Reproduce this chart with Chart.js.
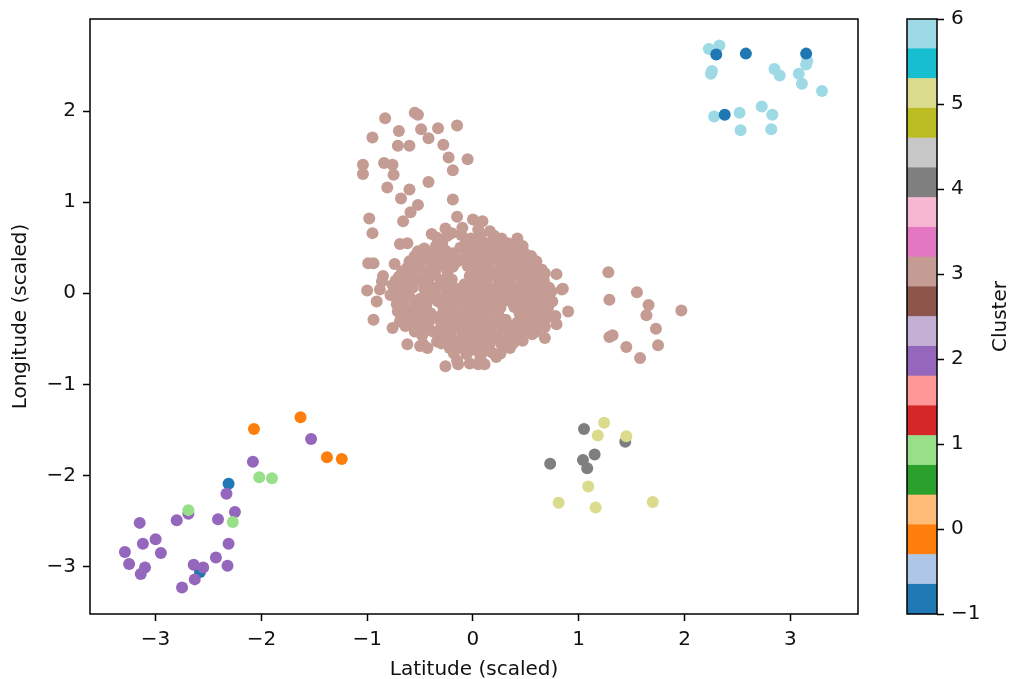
<!DOCTYPE html>
<html><head><meta charset="utf-8">
<script src="https://cdn.jsdelivr.net/npm/chart.js@4.4.1/dist/chart.umd.min.js"></script>
<style>
html,body{margin:0;padding:0;background:#fff;}
#wrap{position:relative;width:1011px;height:679px;overflow:hidden;background:#fff;}
canvas{position:absolute;left:0;top:0;}
</style>
</head><body>
<div id="wrap"><canvas id="main" width="1011" height="679"></canvas><canvas id="cbar" width="1011" height="679"></canvas></div>
<script>
// ---------------- data ----------------
const clusterIds = [-1, 0, 1, 2, 3, 4, 5, 6];

const clusterNoise = [[2.30,2.62],[2.58,2.63],[3.15,2.63],[2.38,1.96],[-2.31,-2.09],[-2.58,-3.06]];
const cluster0 = [[-2.07,-1.49],[-1.63,-1.36],[-1.38,-1.80],[-1.24,-1.82]];
const cluster1 = [[-2.02,-2.02],[-1.90,-2.03],[-2.69,-2.38],[-2.27,-2.51]];
const cluster2 = [[-1.53,-1.60],[-2.08,-1.85],[-2.33,-2.20],[-2.25,-2.40],[-2.41,-2.48],[-2.80,-2.49],[-2.69,-2.42],
  [-3.15,-2.52],[-3.12,-2.75],[-3.00,-2.70],[-2.95,-2.85],[-3.29,-2.84],[-3.25,-2.97],[-3.10,-3.01],[-3.14,-3.08],
  [-2.31,-2.75],[-2.43,-2.90],[-2.32,-2.99],[-2.64,-2.98],[-2.55,-3.01],[-2.63,-3.14],[-2.75,-3.23]];
const cluster3 = [
  // upper sparse arm
  [-0.83,1.92],[-0.55,1.98],[-0.52,1.96],[-0.95,1.71],[-0.70,1.78],[-0.49,1.80],[-0.33,1.81],[-0.15,1.84],[-0.42,1.70],
  [-0.71,1.62],[-0.60,1.62],[-0.28,1.63],[-0.23,1.49],[-0.05,1.47],[-0.19,1.35],[-1.04,1.41],[-1.04,1.31],[-0.84,1.43],
  [-0.76,1.41],[-0.75,1.30],[-0.81,1.16],[-0.42,1.22],[-0.60,1.14],[-0.68,1.04],[-0.52,0.97],[-0.59,0.89],[-0.66,0.79],
  [-0.19,1.03],[-0.98,0.82],[-0.95,0.66],[-0.69,0.54],[-0.62,0.55],[-0.99,0.33],[-0.94,0.33],
  // right group
  [1.28,0.23],[1.29,-0.07],[1.55,0.01],[1.66,-0.13],[1.64,-0.24],[1.97,-0.19],[1.73,-0.39],[1.75,-0.57],
  [1.29,-0.48],[1.32,-0.46],[1.45,-0.59],[1.58,-0.71],
  // core edge
  [-0.15,0.84],[0.00,0.81],[0.09,0.79],[-0.39,0.65],[-0.26,0.71],[0.16,0.68],[0.27,0.60],[0.42,0.60],[0.47,0.52],
  [0.54,0.35],[0.52,0.37],[0.68,0.22],[0.79,0.21],[0.84,0.04],[0.85,0.05],[0.90,-0.20],[0.75,-0.09],[0.78,-0.25],
  [0.79,-0.34],[0.68,-0.49],[0.47,-0.52],[0.35,-0.60],[0.26,-0.66],[0.07,-0.71],[0.11,-0.78],[-0.06,-0.67],[-0.03,-0.77],
  [0.05,-0.78],[-0.26,-0.80],[-0.15,-0.74],[-0.14,-0.78],[-0.22,-0.60],[-0.62,-0.56],[-0.50,-0.58],[-0.43,-0.60],
  [-0.47,-0.56],[-0.76,-0.38],[-0.94,-0.29],[-0.91,-0.09],[-0.86,0.13],[-0.88,0.04],[-1.00,0.03],[-0.85,0.19],
  [-0.74,0.32],[-0.67,0.24],[-0.60,0.35],[-0.57,0.06],[-0.66,-0.09],[-0.71,-0.20],[-0.60,-0.31],[-0.50,-0.34],
  [-0.36,-0.27],[-0.33,-0.09],[-0.38,-0.42],[-0.34,-0.53],
  // core interior
  [-0.34,0.61],[-0.24,0.63],[-0.11,0.64],[-0.02,0.60],[0.07,0.62],[0.19,0.57],[0.33,0.55],
  [-0.46,0.49],[-0.35,0.52],[-0.26,0.47],[-0.12,0.50],[-0.03,0.51],[0.08,0.48],[0.17,0.52],[0.28,0.49],[0.38,0.46],[0.49,0.44],
  [-0.55,0.41],[-0.44,0.38],[-0.33,0.42],[-0.22,0.39],[-0.11,0.37],[0.00,0.41],[0.10,0.38],[0.21,0.42],[0.31,0.37],[0.42,0.40],[0.55,0.41],
  [-0.62,0.28],[-0.51,0.31],[-0.40,0.27],[-0.30,0.32],[-0.19,0.29],[-0.05,0.30],[0.05,0.27],[0.15,0.31],[0.26,0.28],[0.37,0.30],[0.47,0.27],[0.58,0.29],
  [-0.70,0.18],[-0.58,0.21],[-0.47,0.17],[-0.36,0.20],[-0.25,0.17],[-0.03,0.19],[0.08,0.16],[0.18,0.21],[0.29,0.18],[0.40,0.20],[0.51,0.17],[0.61,0.20],
  [-0.76,0.09],[-0.64,0.11],[-0.41,0.08],[-0.30,0.11],[-0.19,0.07],[-0.08,0.10],[0.02,0.08],[0.13,0.11],[0.24,0.07],[0.35,0.10],[0.46,0.08],[0.57,0.11],[0.68,0.09],
  [-0.78,-0.02],[-0.66,0.01],[-0.45,-0.03],[-0.35,0.02],[-0.24,-0.01],[-0.13,0.02],[-0.02,-0.02],[0.09,0.01],[0.20,-0.03],[0.31,0.01],[0.42,-0.02],[0.53,0.00],[0.64,-0.01],[0.74,0.02],
  [-0.72,-0.12],[-0.55,-0.09],[-0.44,-0.13],[-0.22,-0.11],[-0.11,-0.08],[0.00,-0.12],[0.11,-0.09],[0.22,-0.13],[0.33,-0.08],[0.44,-0.11],[0.55,-0.09],[0.65,-0.12],
  [-0.62,-0.21],[-0.51,-0.18],[-0.40,-0.22],[-0.25,-0.19],[-0.14,-0.22],[-0.03,-0.18],[0.08,-0.21],[0.19,-0.17],[0.44,-0.22],[0.55,-0.19],[0.66,-0.21],
  [-0.69,-0.31],[-0.42,-0.32],[-0.24,-0.31],[-0.13,-0.28],[-0.02,-0.32],[0.09,-0.29],[0.20,-0.31],[0.31,-0.29],[0.42,-0.32],[0.53,-0.28],[0.64,-0.31],
  [-0.55,-0.42],[-0.27,-0.41],[-0.16,-0.38],[-0.05,-0.42],[0.06,-0.39],[0.17,-0.42],[0.28,-0.38],[0.39,-0.41],[0.50,-0.40],[0.60,-0.42],
  [-0.25,-0.50],[-0.12,-0.52],[-0.01,-0.49],[0.10,-0.51],[0.21,-0.48],[0.32,-0.52],[0.40,-0.50],
  [-0.10,-0.60],[0.01,-0.62],[0.14,-0.61],[0.18,-0.65],
  // core interior, in-between rows
  [-0.10,0.72],[0.05,0.70],[-0.20,0.66],[0.20,0.63],
  [-0.29,0.56],[-0.07,0.55],[0.02,0.56],[0.13,0.55],[0.25,0.54],[0.40,0.52],
  [-0.52,0.46],[-0.40,0.44],[-0.30,0.46],[-0.19,0.44],[-0.07,0.45],[0.03,0.46],[0.13,0.44],[0.23,0.46],[0.33,0.43],[0.45,0.45],
  [-0.58,0.35],[-0.48,0.36],[-0.38,0.34],[-0.27,0.36],[-0.16,0.34],[-0.05,0.35],[0.05,0.34],[0.16,0.36],[0.26,0.34],[0.36,0.35],[0.47,0.34],[0.60,0.35],
  [-0.66,0.24],[-0.55,0.26],[-0.45,0.24],[-0.35,0.26],[-0.24,0.24],[0.00,0.24],[0.10,0.25],[0.21,0.24],[0.32,0.25],[0.43,0.23],[0.54,0.24],[0.65,0.26],
  [-0.73,0.14],[-0.62,0.15],[-0.52,0.14],[-0.42,0.15],[-0.30,0.14],[-0.20,0.15],[0.03,0.13],[0.13,0.15],[0.24,0.14],[0.35,0.15],[0.46,0.13],[0.56,0.15],[0.67,0.14],
  [-0.70,0.05],[-0.46,0.05],[-0.35,0.06],[-0.24,0.04],[-0.13,0.05],[-0.03,0.04],[0.07,0.05],[0.18,0.04],[0.29,0.05],[0.40,0.04],[0.51,0.06],[0.62,0.04],[0.72,0.06],
  [-0.72,-0.06],[-0.60,-0.04],[-0.50,-0.06],[-0.39,-0.05],[-0.28,-0.06],[-0.17,-0.04],[-0.07,-0.06],[0.04,-0.05],[0.15,-0.06],[0.26,-0.04],[0.37,-0.06],[0.48,-0.05],[0.59,-0.06],[0.70,-0.04],
  [-0.66,-0.16],[-0.56,-0.15],[-0.45,-0.17],[-0.28,-0.15],[-0.17,-0.16],[-0.06,-0.14],[0.05,-0.16],[0.16,-0.14],[0.26,-0.16],[0.39,-0.15],[0.50,-0.16],[0.61,-0.14],[0.71,-0.16],
  [-0.65,-0.26],[-0.55,-0.25],[-0.45,-0.27],[-0.30,-0.24],[-0.19,-0.26],[-0.08,-0.25],[0.03,-0.26],[0.14,-0.24],[0.25,-0.26],[0.48,-0.26],[0.59,-0.25],[0.70,-0.27],
  [-0.64,-0.36],[-0.53,-0.35],[-0.45,-0.37],[-0.30,-0.36],[-0.19,-0.34],[-0.08,-0.36],[0.03,-0.35],[0.14,-0.36],[0.25,-0.34],[0.36,-0.36],[0.47,-0.35],[0.58,-0.36],[0.68,-0.37],
  [-0.48,-0.46],[-0.32,-0.45],[-0.21,-0.46],[-0.10,-0.44],[0.01,-0.46],[0.12,-0.45],[0.23,-0.46],[0.34,-0.44],[0.45,-0.46],[0.56,-0.45],
  [-0.30,-0.55],[-0.18,-0.56],[-0.06,-0.55],[0.05,-0.56],[0.16,-0.55],[0.27,-0.56],[0.38,-0.55],
  [-0.18,-0.66],[-0.05,-0.64],[0.08,-0.66],[0.22,-0.70]
];
const cluster4 = [[1.05,-1.49],[0.73,-1.87],[1.04,-1.83],[1.15,-1.77],[1.08,-1.92],[1.44,-1.63]];
const cluster5 = [[1.24,-1.42],[1.18,-1.56],[1.45,-1.57],[1.09,-2.12],[0.81,-2.30],[1.16,-2.35],[1.70,-2.29]];
const cluster6 = [[2.23,2.68],[2.33,2.72],[2.26,2.44],[2.25,2.41],[2.85,2.46],[2.90,2.39],[3.15,2.51],[3.08,2.41],
  [3.11,2.30],[3.30,2.22],[2.28,1.94],[2.52,1.98],[2.73,2.05],[2.83,1.96],[2.53,1.79],[2.82,1.80],[3.16,2.55]];

const xTicks = [-3, -2, -1, 0, 1, 2, 3];
const yTicks = [-3, -2, -1, 0, 1, 2];
const cbTicks = [-1, 0, 1, 2, 3, 4, 5, 6];
const cbBounds = [-1,-0.65,-0.3,0.05,0.4,0.75,1.1,1.45,1.8,2.15,2.5,2.85,3.2,3.55,3.9,4.25,4.6,4.95,5.3,5.65,6];

// ---------------- style ----------------
const tab20 = ['#1f77b4','#aec7e8','#ff7f0e','#ffbb78','#2ca02c','#98df8a','#d62728','#ff9896','#9467bd','#c5b0d5',
  '#8c564b','#c49c94','#e377c2','#f7b6d2','#7f7f7f','#c7c7c7','#bcbd22','#dbdb8d','#17becf','#9edae5'];
function clusterColor(c){ return tab20[Math.min(19, Math.floor((c + 1) / 7 * 20))]; }
const FONT = {family: '"DejaVu Sans", sans-serif', size: 20, lineHeight: 1.2};
const TXT = '#111';
const fmt = v => (v < 0 ? '\u2212' + Math.abs(v) : String(v));
const toPts = arr => arr.map(p => ({x: p[0], y: p[1]}));

// draw order: first listed on top
const series = [
  [1, cluster1], [5, cluster5], [2, cluster2], [-1, clusterNoise], [6, cluster6], [4, cluster4], [0, cluster0], [3, cluster3]
];

const framePlugin = {
  id: 'frame',
  afterDraw(chart) {
    const {ctx, chartArea: a} = chart;
    ctx.save();
    ctx.strokeStyle = '#000';
    ctx.lineWidth = 1.5;
    ctx.strokeRect(a.left, a.top, a.right - a.left, a.bottom - a.top);
    ctx.restore();
  }
};

new Chart(document.getElementById('main'), {
  type: 'scatter',
  data: {
    datasets: series.map(([c, arr]) => ({
      label: 'Cluster ' + c,
      data: toPts(arr),
      backgroundColor: clusterColor(c),
      borderWidth: 0,
      pointRadius: 6,
      pointHoverRadius: 6
    }))
  },
  options: {
    responsive: false, animation: false, devicePixelRatio: 1,
    layout: {padding: {left: 0, top: 17, right: 153, bottom: 0}},
    plugins: {legend: {display: false}, tooltip: {enabled: false}},
    scales: {
      x: {
        type: 'linear', min: -3.62, max: 3.64,
        afterBuildTicks: s => { s.ticks = xTicks.map(v => ({value: v})); },
        afterFit: s => { s.height = 65; },
        ticks: {callback: fmt, font: FONT, color: TXT, padding: 7, maxRotation: 0},
        grid: {drawOnChartArea: false, drawTicks: true, tickLength: 7, tickWidth: 1.5, tickColor: '#000'},
        border: {display: false},
        title: {display: true, text: 'Latitude (scaled)', font: FONT, color: TXT, padding: {top: 0, bottom: -3}}
      },
      y: {
        type: 'linear', min: -3.52, max: 3.01,
        afterBuildTicks: s => { s.ticks = yTicks.map(v => ({value: v})); },
        afterFit: s => { s.width = 90; },
        ticks: {callback: fmt, font: FONT, color: TXT, padding: 7},
        grid: {drawOnChartArea: false, drawTicks: true, tickLength: 7, tickWidth: 1.5, tickColor: '#000'},
        border: {display: false},
        title: {display: true, text: 'Longitude (scaled)', font: FONT, color: TXT, padding: {top: 9, bottom: 0}}
      }
    }
  },
  plugins: [framePlugin]
});

// ---------------- colorbar ----------------
const cbTitlePlugin = {
  id: 'cbTitle',
  afterDraw(chart) {
    const {ctx, chartArea: a} = chart;
    ctx.save();
    ctx.strokeStyle = '#000';
    ctx.lineWidth = 1.5;
    ctx.strokeRect(a.left, a.top, a.right - a.left, a.bottom - a.top);
    ctx.translate(1001, (a.top + a.bottom) / 2);
    ctx.rotate(-Math.PI / 2);
    ctx.font = '20px "DejaVu Sans", sans-serif';
    ctx.fillStyle = TXT;
    ctx.textAlign = 'center';
    ctx.textBaseline = 'middle';
    ctx.fillText('Cluster', 0, 0);
    ctx.restore();
  }
};

new Chart(document.getElementById('cbar'), {
  type: 'bar',
  data: {
    labels: ['cb'],
    datasets: cbBounds.slice(0, -1).map((lo, i) => ({
      data: [[lo, cbBounds[i + 1]]],
      backgroundColor: tab20[i],
      borderWidth: 0,
      grouped: false,
      barPercentage: 1,
      categoryPercentage: 1
    }))
  },
  options: {
    responsive: false, animation: false, devicePixelRatio: 1,
    layout: {padding: {left: 907, top: 17, right: 0, bottom: 65}},
    plugins: {legend: {display: false}, tooltip: {enabled: false}},
    scales: {
      x: {display: false},
      y: {
        position: 'right', type: 'linear', min: -1, max: 6,
        afterBuildTicks: s => { s.ticks = cbTicks.map(v => ({value: v})); },
        afterFit: s => { s.width = 74; },
        ticks: {callback: fmt, font: FONT, color: TXT, padding: 7},
        grid: {drawOnChartArea: false, drawTicks: true, tickLength: 7, tickWidth: 1.5, tickColor: '#000'},
        border: {display: false}
      }
    }
  },
  plugins: [cbTitlePlugin]
});
</script>
</body></html>
